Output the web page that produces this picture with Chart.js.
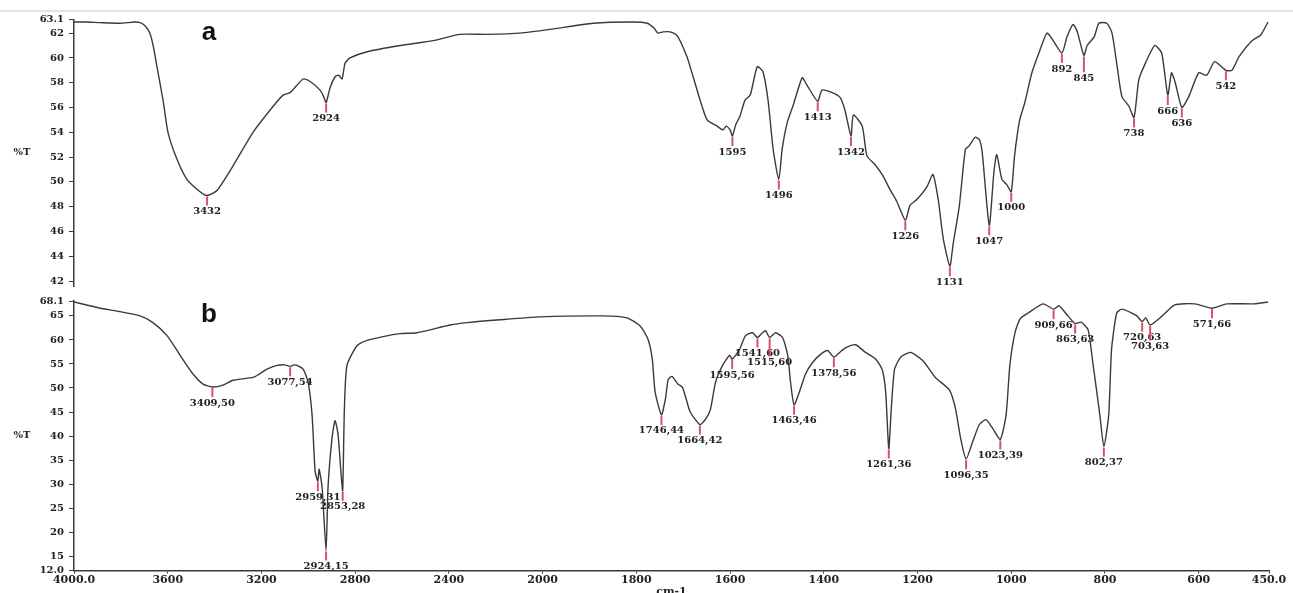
<!DOCTYPE html>
<html>
<head>
<meta charset="utf-8">
<script src="https://cdn.jsdelivr.net/npm/chart.js@4.4.0/dist/chart.umd.min.js"></script>
<style>
  body { margin: 0; width: 1293px; height: 593px; overflow: hidden; background: #fff; position: relative; }
  #topline { position: absolute; left: 0; top: 10px; width: 1293px; height: 2px; background: #e2e2e2; }
  canvas { position: absolute; left: 0; }
</style>
</head>
<body>
<div id="topline"></div>
<canvas id="ftirA" width="1293" height="297" style="top:0"></canvas>
<canvas id="ftirB" width="1293" height="315" style="top:290px"></canvas>
<script>
// spectrum a
const waveA = [4000, 3950, 3889, 3804, 3740, 3718, 3697, 3676, 3660, 3646,
  3620, 3599, 3560, 3518, 3462, 3432, 3390, 3321, 3236, 3150,
  3108, 3078, 3022, 2992, 2950, 2935, 2924, 2907, 2885, 2870,
  2856, 2843, 2822, 2749, 2608, 2467, 2352, 2237, 2096, 1984,
  1892, 1807, 1777, 1762, 1754, 1743, 1728, 1713, 1692, 1679,
  1664, 1649, 1628, 1615, 1608, 1600, 1595, 1588, 1579, 1568,
  1557, 1542, 1530, 1519, 1508, 1496, 1489, 1478, 1466, 1446,
  1436, 1413, 1404, 1382, 1365, 1355, 1342, 1337, 1318, 1308,
  1291, 1274, 1259, 1244, 1226, 1216, 1201, 1180, 1167, 1156,
  1145, 1131, 1124, 1111, 1098, 1090, 1077, 1068, 1062, 1047,
  1037, 1031, 1020, 1010, 1000, 993, 982, 971, 956, 941,
  924, 914, 892, 881, 868, 859, 845, 838, 823, 813,
  796, 785, 774, 764, 749, 738, 728, 717, 694, 679,
  666, 658, 650, 636, 621, 600, 583, 566, 542, 529,
  514, 486, 469, 465, 452];
const transA = [62.9, 62.9, 62.85, 62.8, 62.9, 62.85, 62.6, 62.0, 60.8, 59.3,
  56.6, 54.0, 51.8, 50.2, 49.2, 48.9, 49.3, 51.3, 54.0, 56.1,
  57.0, 57.2, 58.3, 58.1, 57.4, 56.9, 56.4, 57.6, 58.5, 58.6,
  58.3, 59.6, 60.0, 60.5, 61.0, 61.4, 61.9, 61.9, 62.0, 62.3,
  62.8, 62.9, 62.8, 62.4, 62.0, 62.1, 62.1, 61.8, 60.1, 58.5,
  56.6, 55.0, 54.5, 54.2, 54.5, 54.2, 53.7, 54.6, 55.3, 56.6,
  57.0, 59.3, 58.9, 56.6, 52.6, 50.2, 52.6, 54.8, 56.1, 58.4,
  57.8, 56.5, 57.4, 57.2, 56.8, 55.8, 53.7, 55.4, 54.5, 52.1,
  51.4, 50.5, 49.4, 48.4, 46.9, 48.1, 48.6, 49.6, 50.6, 48.6,
  45.4, 43.2, 45.0, 48.0, 52.6, 52.9, 53.6, 53.4, 52.4, 46.5,
  50.8, 52.2, 50.2, 49.8, 49.2, 52.1, 55.0, 56.4, 58.8, 60.4,
  62.0, 61.6, 60.4, 61.7, 62.7, 62.1, 60.2, 61.0, 61.7, 62.8,
  62.8, 62.0, 59.3, 56.9, 56.1, 55.2, 58.2, 59.3, 61.0, 60.4,
  57.0, 58.8, 58.0, 56.0, 56.9, 58.8, 58.6, 59.7, 59.0, 59.0,
  60.1, 61.4, 61.8, 62.0, 62.9];
const peaksA = [3432, 2924, 1595, 1496, 1413, 1342, 1226, 1131, 1047, 1000, 892, 845, 738, 666, 636, 542];
const peakLabelsA = ['3432', '2924', '1595', '1496', '1413', '1342', '1226', '1131', '1047', '1000', '892', '845', '738', '666', '636', '542'];

// spectrum b
const waveB = [4000, 3889, 3816, 3718, 3663, 3603, 3547, 3492, 3449, 3409.5,
  3364, 3321, 3236, 3219, 3176, 3133, 3100, 3077.54, 3060, 3048,
  3022, 3001, 2984, 2971, 2959.31, 2954, 2941, 2924.15, 2916, 2899,
  2886, 2873, 2860, 2853.28, 2846, 2835, 2792, 2749, 2681, 2608,
  2536, 2395, 2322, 2181, 2011, 1871, 1820, 1792, 1775, 1766,
  1760, 1746.44, 1738, 1732, 1724, 1711, 1702, 1696, 1685, 1664.42,
  1653, 1642, 1631, 1616, 1601, 1595.56, 1580, 1567, 1552, 1541.6,
  1531, 1524, 1515.6, 1503, 1488, 1477, 1471, 1463.46, 1452, 1439,
  1424, 1407, 1392, 1378.56, 1366, 1353, 1332, 1311, 1289, 1275,
  1268, 1261.36, 1256, 1249, 1236, 1215, 1189, 1162, 1132, 1119,
  1108, 1096.35, 1082, 1068, 1054, 1039, 1023.39, 1011, 1003, 992,
  981, 964, 932, 909.66, 898, 879, 863.63, 851, 836, 826,
  811, 802.37, 792, 786, 775, 764, 743, 732, 720.63, 713,
  703.63, 678, 651, 608, 571.66, 540, 482, 452];
const transB = [67.9, 66.6, 66.0, 65.0, 63.6, 60.9, 56.8, 52.9, 50.8, 50.2,
  50.6, 51.6, 52.2, 52.6, 53.9, 54.7, 54.8, 54.5, 54.8, 54.7,
  53.9, 51.2, 44.4, 32.7, 30.6, 33.1, 29.2, 16.2, 29.2, 39.5,
  43.2, 40.3, 32.0, 28.6, 45.7, 54.7, 58.8, 59.9, 60.7, 61.3,
  61.5, 63.1, 63.6, 64.2, 64.8, 65.0, 64.6, 62.9, 60.1, 56.0,
  49.2, 44.4, 47.7, 51.8, 52.4, 50.8, 50.2, 48.5, 45.0, 42.4,
  43.4, 45.5, 51.2, 54.7, 56.8, 56.0, 58.0, 60.9, 61.5, 60.5,
  61.5, 61.9, 60.5, 61.5, 60.5, 56.8, 51.2, 46.5, 49.2, 52.9,
  55.3, 57.0, 57.8, 56.4, 57.4, 58.4, 59.0, 57.4, 56.0, 53.7,
  49.2, 37.4, 45.7, 53.9, 56.4, 57.4, 55.7, 52.2, 49.6, 45.7,
  39.5, 35.2, 38.9, 42.4, 43.4, 41.5, 39.3, 44.4, 54.7, 61.5,
  64.4, 65.6, 67.5, 66.4, 67.1, 65.0, 63.4, 63.7, 62.1, 55.3,
  44.4, 37.8, 44.4, 58.0, 65.6, 66.4, 65.6, 65.0, 63.8, 64.6,
  63.1, 65.0, 67.3, 67.5, 66.6, 67.5, 67.5, 67.9];
const peaksB = [3409.5, 3077.54, 2959.31, 2924.15, 2853.28, 1746.44, 1664.42, 1595.56, 1541.6, 1515.6,
  1463.46, 1378.56, 1261.36, 1096.35, 1023.39, 909.66, 863.63, 802.37, 720.63, 703.63, 571.66];
const peakLabelsB = ['3409,50', '3077,54', '2959,31', '2924,15', '2853,28', '1746,44', '1664,42', '1595,56', '1541,60', '1515,60',
  '1463,46', '1378,56', '1261,36', '1096,35', '1023,39', '909,66', '863,63', '802,37', '720,63', '703,63', '571,66'];

// axes
const xTicks = [4000, 3600, 3200, 2800, 2400, 2000, 1800, 1600, 1400, 1200, 1000, 800, 600, 450];
const xTickLabels = ['4000.0', '3600', '3200', '2800', '2400', '2000', '1800', '1600', '1400', '1200', '1000', '800', '600', '450.0'];
const yTicksA = [63.1, 62, 60, 58, 56, 54, 52, 50, 48, 46, 44, 42];
const yTickLabelsA = ['63.1', '62', '60', '58', '56', '54', '52', '50', '48', '46', '44', '42'];
const yTicksB = [68.1, 65, 60, 55, 50, 45, 40, 35, 30, 25, 20, 15, 12];
const yTickLabelsB = ['68.1', '65', '60', '55', '50', '45', '40', '35', '30', '25', '20', '15', '12.0'];

// wavenumber axis: above 2000 cm-1 the scale is compressed 2:1
const BREAK = 2000;
class WarpScale extends Chart.LinearScale {
  warp(v) { return v > BREAK ? BREAK + (v - BREAK) / 2 : v; }
  unwarp(u) { return u > BREAK ? BREAK + (u - BREAK) * 2 : u; }
  getPixelForValue(value) {
    if (value === null || isNaN(value)) return NaN;
    const a = this.warp(this.min), b = this.warp(this.max);
    return this.getPixelForDecimal((this.warp(value) - a) / (b - a));
  }
  getValueForPixel(pixel) {
    const a = this.warp(this.min), b = this.warp(this.max);
    return this.unwarp(a + this.getDecimalForPixel(pixel) * (b - a));
  }
}
WarpScale.id = 'warp';
WarpScale.defaults = Chart.LinearScale.defaults;
Chart.register(WarpScale);

const INK = '#3a3a3a';
const smallFont = { family: '"DejaVu Serif"', size: 10, weight: 'bold' };

function valueAt(xs, ys, w) {
  const k = xs.indexOf(w);
  if (k >= 0) return ys[k];
  for (let i = 1; i < xs.length; i++) {
    if ((xs[i - 1] - w) * (xs[i] - w) <= 0) {
      const t = (w - xs[i - 1]) / (xs[i] - xs[i - 1]);
      return ys[i - 1] + t * (ys[i] - ys[i - 1]);
    }
  }
  return NaN;
}

// peak markers, panel letter and the horizontal %T label
const ftirDecor = {
  id: 'ftirDecor',
  afterDatasetsDraw(chart, args, opts) {
    const { ctx, chartArea, scales: { x, y } } = chart;
    ctx.save();
    ctx.font = 'bold 10px "DejaVu Serif"';
    ctx.textAlign = 'center';
    ctx.textBaseline = 'top';
    const placed = [];
    opts.peaks.forEach((w, i) => {
      const v = valueAt(opts.xs, opts.ys, w);
      const px = x.getPixelForValue(w);
      const py = y.getPixelForValue(v);
      const text = opts.labels[i];
      const tw = ctx.measureText(text).width;
      let ty = py + 11;
      placed.forEach(b => {
        if (Math.abs(b.x - px) < (b.w + tw) / 2 + 2 && Math.abs(b.y - ty) < 9) ty = b.y + 9;
      });
      placed.push({ x: px, y: ty, w: tw });
      ctx.strokeStyle = '#d8506a';
      ctx.lineWidth = 2;
      ctx.beginPath();
      ctx.moveTo(px, py + 1);
      ctx.lineTo(px, ty - 1);
      ctx.stroke();
      ctx.fillStyle = '#222';
      ctx.fillText(text, px, ty);
    });
    ctx.font = 'bold 26px "Liberation Sans", Arial, sans-serif';
    ctx.textAlign = 'center';
    ctx.textBaseline = 'alphabetic';
    ctx.fillStyle = '#111';
    ctx.fillText(opts.letter, chartArea.left + 135, chartArea.top + 20.5);
    ctx.font = 'bold 10px "DejaVu Serif"';
    ctx.textBaseline = 'middle';
    ctx.fillStyle = '#222';
    ctx.fillText('%T', 22, (chartArea.top + chartArea.bottom) / 2);
    ctx.restore();
  }
};

function yScale(min, max, ticks, labels) {
  return {
    min: min, max: max,
    afterBuildTicks: s => { s.ticks = ticks.map(v => ({ value: v })); },
    afterFit: s => { s.width = 74; },
    ticks: { autoSkip: false, padding: 5, color: '#222', font: smallFont, callback: (v, i) => labels[i] },
    grid: { drawOnChartArea: false, tickLength: 5, color: INK, lineWidth: 1 },
    border: { color: INK, width: 1.5 }
  };
}

function lineData(xs, ys) {
  return {
    datasets: [{
      data: xs.map((w, i) => ({ x: w, y: ys[i] })),
      borderColor: INK,
      borderWidth: 1.4,
      pointRadius: 0,
      tension: 0.2,
      fill: false
    }]
  };
}

new Chart(document.getElementById('ftirA').getContext('2d'), {
  type: 'line',
  data: lineData(waveA, transA),
  options: {
    responsive: false,
    animation: false,
    events: [],
    layout: { padding: { top: 19.5, right: 24, bottom: 8, left: 0 } },
    plugins: {
      legend: { display: false },
      tooltip: { enabled: false },
      ftirDecor: { letter: 'a', xs: waveA, ys: transA, peaks: peaksA, labels: peakLabelsA }
    },
    scales: {
      x: { type: 'warp', min: 450, max: 4000, reverse: true, bounds: 'data', display: false },
      y: yScale(41.6, 63.1, yTicksA, yTickLabelsA)
    }
  },
  plugins: [ftirDecor]
});

new Chart(document.getElementById('ftirB').getContext('2d'), {
  type: 'line',
  data: lineData(waveB, transB),
  options: {
    responsive: false,
    animation: false,
    events: [],
    layout: { padding: { top: 8, right: 24, bottom: 0, left: 0 } },
    plugins: {
      legend: { display: false },
      tooltip: { enabled: false },
      ftirDecor: { letter: 'b', xs: waveB, ys: transB, peaks: peaksB, labels: peakLabelsB }
    },
    scales: {
      x: {
        type: 'warp', min: 450, max: 4000, reverse: true, bounds: 'data',
        afterBuildTicks: s => { s.ticks = xTicks.map(v => ({ value: v })); },
        afterFit: s => { s.height = 34.4; },
        ticks: { autoSkip: false, maxRotation: 0, padding: 0, color: '#222', font: { family: '"DejaVu Serif"', size: 11, weight: 'bold' }, callback: (v, i) => xTickLabels[i] },
        grid: { drawOnChartArea: false, tickLength: 3, color: INK, lineWidth: 1 },
        border: { color: INK, width: 1.5 },
        title: { display: true, text: 'cm-1', color: '#222', padding: { top: 0, bottom: 6 }, font: { family: '"DejaVu Serif"', size: 11, weight: 'bold' } }
      },
      y: yScale(12, 68.1, yTicksB, yTickLabelsB)
    }
  },
  plugins: [ftirDecor]
});
</script>
</body>
</html>
